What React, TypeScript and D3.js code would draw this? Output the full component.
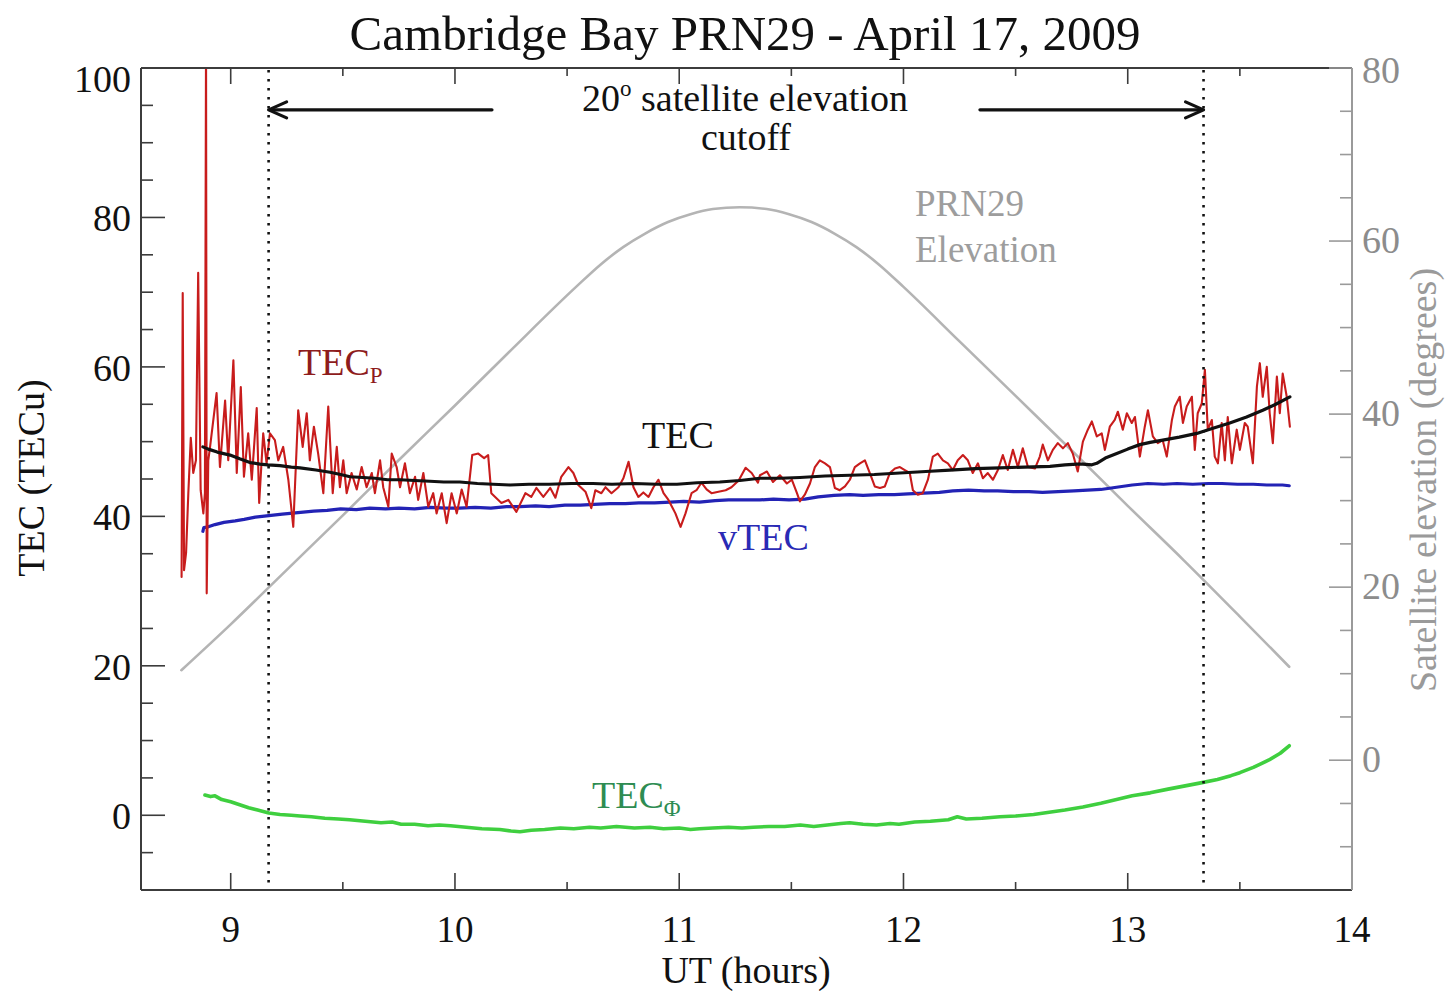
import React from 'react';
import * as d3 from 'd3';

// ---- data -------------------------------------------------------------
const xTickValues = [9, 10, 11, 12, 13, 14];
const xMinorValues = [9.5, 10.5, 11.5, 12.5, 13.5];
const tecTickValues = [0, 20, 40, 60, 80, 100];
const elevTickValues = [0, 20, 40, 60, 80];
const cutoffHours = [9.169, 13.338];
const arrowTailHours = [10.165, 12.341];

// PRN29 elevation (degrees)
const elevHours = [8.78, 9.0, 9.25, 9.5, 9.75, 10.0, 10.25, 10.54, 10.65, 10.75, 10.85, 10.95, 11.05, 11.15, 11.27, 11.39, 11.49, 11.59, 11.69, 11.79, 11.89, 12.0, 12.25, 12.5, 12.75, 13.0, 13.25, 13.5, 13.72];
const elevValues = [10.4, 15.7, 22.0, 28.3, 34.7, 41.0, 47.4, 54.7, 57.3, 59.3, 60.9, 62.2, 63.1, 63.7, 63.9, 63.7, 63.1, 62.2, 60.9, 59.3, 57.3, 54.7, 48.4, 42.1, 35.8, 29.4, 23.1, 16.6, 10.8];

// Pseudorange TEC (TECu)
const tecPHours = [
  8.781, 8.786, 8.792, 8.801, 8.811, 8.822, 8.833, 8.845, 8.855, 8.866, 8.878, 8.885, 8.890, 8.893, 8.900, 8.908,
  8.937, 8.952, 8.975, 8.989, 9.012, 9.027, 9.045, 9.059, 9.078, 9.094, 9.116, 9.127, 9.145, 9.160, 9.175, 9.197,
  9.212, 9.234, 9.257, 9.279, 9.301, 9.321, 9.339, 9.353, 9.371, 9.390, 9.413, 9.435, 9.455, 9.473, 9.487, 9.502,
  9.517, 9.539, 9.562, 9.584, 9.606, 9.629, 9.643, 9.666, 9.680, 9.703, 9.718, 9.740, 9.755, 9.777, 9.799, 9.822,
  9.836, 9.859, 9.881, 9.903, 9.918, 9.941, 9.963, 9.985, 10.008, 10.030, 10.052, 10.077, 10.104, 10.130, 10.148, 10.162,
  10.207, 10.238, 10.274, 10.314, 10.340, 10.363, 10.394, 10.425, 10.448, 10.474, 10.506, 10.528, 10.550, 10.582, 10.608, 10.626,
  10.653, 10.671, 10.698, 10.729, 10.751, 10.774, 10.796, 10.818, 10.840, 10.863, 10.885, 10.907, 10.930, 10.952, 10.983, 11.006,
  11.028, 11.055, 11.077, 11.099, 11.122, 11.144, 11.175, 11.207, 11.233, 11.265, 11.296, 11.323, 11.351, 11.360, 11.391, 11.418,
  11.449, 11.480, 11.502, 11.525, 11.538, 11.560, 11.583, 11.605, 11.627, 11.650, 11.672, 11.694, 11.716, 11.739, 11.761, 11.783,
  11.806, 11.828, 11.850, 11.872, 11.895, 11.917, 11.939, 11.962, 11.984, 12.006, 12.028, 12.042, 12.064, 12.086, 12.109, 12.131,
  12.153, 12.176, 12.198, 12.220, 12.242, 12.265, 12.287, 12.309, 12.332, 12.354, 12.376, 12.399, 12.421, 12.443, 12.465, 12.488,
  12.510, 12.532, 12.555, 12.586, 12.608, 12.621, 12.644, 12.666, 12.688, 12.711, 12.733, 12.755, 12.777, 12.800, 12.822, 12.840,
  12.862, 12.884, 12.898, 12.920, 12.942, 12.956, 12.978, 12.996, 13.018, 13.032, 13.054, 13.076, 13.090, 13.112, 13.134, 13.156,
  13.174, 13.197, 13.210, 13.232, 13.246, 13.263, 13.286, 13.299, 13.312, 13.330, 13.344, 13.357, 13.375, 13.388, 13.402, 13.419,
  13.433, 13.446, 13.464, 13.486, 13.500, 13.522, 13.535, 13.558, 13.576, 13.589, 13.602, 13.620, 13.633, 13.647, 13.665, 13.678,
  13.691, 13.709, 13.723,
];
const tecPValues = [
  31.9, 69.9, 32.8, 35.1, 43.1, 50.5, 45.8, 47.5, 72.6, 43.5, 40.4, 43.1, 104.0, 29.7, 47.5, 49.3,
  56.5, 46.6, 55.5, 47.5, 60.9, 45.8, 57.3, 45.3, 51.1, 44.9, 54.5, 41.8, 51.1, 47.1, 51.1, 50.2,
  47.5, 49.3, 44.9, 38.6, 54.2, 49.3, 53.8, 47.5, 52.0, 48.4, 43.1, 54.7, 43.1, 49.3, 43.9, 47.5,
  43.1, 45.8, 43.6, 46.6, 43.9, 45.8, 43.1, 47.5, 43.9, 41.3, 48.4, 46.6, 43.9, 47.1, 43.1, 45.3,
  42.2, 45.8, 41.3, 43.1, 40.4, 43.1, 39.1, 43.1, 40.4, 43.6, 41.3, 48.2, 48.4, 47.8, 48.2, 43.1,
  41.8, 42.2, 40.6, 43.1, 42.6, 43.8, 42.6, 43.8, 42.5, 45.3, 46.6, 45.8, 44.2, 43.3, 41.1, 43.5,
  43.1, 43.9, 43.1, 43.9, 45.1, 47.3, 43.9, 42.6, 43.2, 42.6, 43.9, 44.9, 43.1, 42.2, 40.4, 38.6,
  40.4, 43.1, 43.5, 44.5, 43.6, 43.1, 43.3, 43.5, 43.9, 44.8, 46.5, 45.8, 44.5, 45.5, 46.0, 44.6,
  45.5, 44.4, 44.9, 43.1, 42.0, 42.9, 44.4, 46.6, 47.5, 47.1, 46.6, 43.8, 43.5, 44.0, 44.9, 46.6,
  47.1, 47.5, 45.8, 44.0, 43.8, 44.0, 45.8, 46.4, 46.6, 46.2, 45.8, 43.5, 42.9, 43.1, 44.9, 48.0,
  48.4, 47.5, 47.1, 46.2, 47.5, 48.2, 47.5, 45.8, 47.1, 45.1, 45.8, 44.9, 46.2, 48.2, 46.2, 48.9,
  46.6, 49.1, 46.6, 46.4, 48.0, 49.6, 47.5, 48.9, 49.8, 49.1, 49.8, 48.4, 46.0, 50.0, 51.6, 52.7,
  50.7, 51.1, 48.9, 52.0, 52.9, 54.0, 51.6, 53.8, 52.5, 53.3, 48.0, 52.0, 54.2, 50.7, 49.8, 50.2,
  48.0, 52.9, 54.7, 56.0, 52.5, 54.7, 56.0, 48.9, 53.8, 55.1, 59.6, 51.6, 52.9, 48.0, 47.1, 52.5,
  47.5, 53.3, 47.1, 51.6, 48.9, 52.5, 52.0, 47.1, 57.4, 60.5, 56.0, 60.0, 53.8, 49.8, 58.7, 53.8,
  59.1, 56.0, 52.0,
];

// Combined TEC (TECu)
const tecHours = [
  8.876, 8.90, 8.94, 8.997, 9.04, 9.086, 9.13, 9.166, 9.22, 9.27, 9.309, 9.38, 9.443, 9.49, 9.532, 9.59,
  9.643, 9.70, 9.755, 9.82, 9.888, 9.95, 10.022, 10.10, 10.17, 10.245, 10.33, 10.42, 10.52, 10.615, 10.70, 10.80,
  10.90, 10.990, 11.08, 11.181, 11.27, 11.360, 11.45, 11.538, 11.65, 11.761, 11.87, 11.984, 12.10, 12.207, 12.32, 12.430,
  12.54, 12.653, 12.72, 12.773, 12.80, 12.84, 12.862, 12.90, 12.951, 13.00, 13.054, 13.10, 13.156, 13.23, 13.308, 13.38,
  13.455, 13.53, 13.602, 13.66, 13.723,
];
const tecValues = [
  49.3, 49.0, 48.6, 48.2, 47.7, 47.2, 47.0, 46.9, 46.8, 46.6, 46.5, 46.2, 45.9, 45.6, 45.3, 45.2,
  45.1, 44.9, 44.9, 44.8, 44.7, 44.6, 44.6, 44.4, 44.3, 44.2, 44.3, 44.3, 44.4, 44.4, 44.3, 44.4,
  44.3, 44.3, 44.5, 44.6, 44.8, 45.1, 45.1, 45.2, 45.4, 45.5, 45.6, 45.8, 46.0, 46.2, 46.4, 46.5,
  46.6, 46.7, 46.9, 47.0, 47.0, 46.9, 47.1, 47.8, 48.4, 49.0, 49.6, 49.9, 50.2, 50.6, 51.1, 51.8,
  52.5, 53.3, 54.2, 55.0, 56.0,
];

// Vertical TEC (TECu)
const vtecHours = [
  8.876, 8.880, 8.90, 8.93, 8.97, 9.02, 9.06, 9.11, 9.17, 9.23, 9.30, 9.37, 9.43, 9.49, 9.56, 9.62,
  9.69, 9.75, 9.82, 9.89, 9.96, 10.02, 10.09, 10.16, 10.23, 10.29, 10.36, 10.42, 10.49, 10.56, 10.62, 10.69,
  10.76, 10.82, 10.89, 10.96, 11.02, 11.09, 11.16, 11.22, 11.29, 11.36, 11.42, 11.49, 11.56, 11.62, 11.69, 11.76,
  11.82, 11.89, 11.96, 12.02, 12.09, 12.16, 12.22, 12.29, 12.36, 12.42, 12.49, 12.56, 12.62, 12.69, 12.76, 12.82,
  12.88, 12.95, 13.02, 13.09, 13.16, 13.22, 13.29, 13.36, 13.42, 13.49, 13.56, 13.62, 13.69, 13.72,
];
const vtecValues = [
  38.0, 38.5, 38.6, 38.9, 39.2, 39.4, 39.6, 39.9, 40.1, 40.3, 40.5, 40.7, 40.8, 41.0, 40.9, 41.1,
  41.0, 41.1, 41.0, 41.2, 41.1, 41.1, 41.2, 41.1, 41.3, 41.3, 41.4, 41.3, 41.5, 41.5, 41.6, 41.7,
  41.7, 41.8, 41.8, 41.9, 42.0, 41.9, 42.1, 42.2, 42.2, 42.2, 42.3, 42.2, 42.3, 42.6, 42.8, 42.9,
  42.8, 42.9, 42.9, 43.0, 43.1, 43.2, 43.4, 43.5, 43.4, 43.4, 43.3, 43.3, 43.2, 43.3, 43.4, 43.5,
  43.6, 43.9, 44.2, 44.4, 44.3, 44.4, 44.3, 44.4, 44.4, 44.3, 44.3, 44.2, 44.2, 44.1,
];

// Carrier-phase TEC (TECu)
const tecPhiHours = [
  8.885, 8.91, 8.93, 8.96, 9.00, 9.04, 9.08, 9.12, 9.17, 9.22, 9.27, 9.31, 9.36, 9.42, 9.48, 9.53,
  9.60, 9.67, 9.72, 9.76, 9.82, 9.88, 9.93, 9.98, 10.05, 10.12, 10.20, 10.25, 10.29, 10.34, 10.40, 10.47,
  10.53, 10.60, 10.65, 10.72, 10.80, 10.87, 10.93, 11.00, 11.05, 11.09, 11.15, 11.22, 11.28, 11.33, 11.40, 11.47,
  11.54, 11.60, 11.66, 11.72, 11.76, 11.82, 11.88, 11.94, 11.98, 12.05, 12.12, 12.20, 12.24, 12.28, 12.35, 12.43,
  12.50, 12.58, 12.65, 12.72, 12.80, 12.88, 12.95, 13.02, 13.10, 13.18, 13.25, 13.32, 13.40, 13.46, 13.50, 13.56,
  13.63, 13.68, 13.72,
];
const tecPhiValues = [
  2.7, 2.5, 2.6, 2.1, 1.8, 1.4, 1.0, 0.7, 0.3, 0.1, 0.0, -0.1, -0.2, -0.4, -0.5, -0.6,
  -0.8, -1.0, -0.9, -1.2, -1.2, -1.4, -1.3, -1.4, -1.6, -1.8, -1.9, -2.1, -2.2, -2.0, -1.9, -1.7,
  -1.8, -1.6, -1.7, -1.5, -1.7, -1.6, -1.8, -1.7, -1.9, -1.8, -1.7, -1.6, -1.7, -1.6, -1.5, -1.5,
  -1.3, -1.5, -1.3, -1.1, -1.0, -1.2, -1.3, -1.1, -1.2, -0.9, -0.8, -0.6, -0.2, -0.5, -0.4, -0.2,
  -0.1, 0.1, 0.4, 0.7, 1.1, 1.6, 2.1, 2.6, 3.0, 3.5, 3.9, 4.3, 4.8, 5.3, 5.7, 6.4,
  7.4, 8.3, 9.3,
];

// ---- layout -----------------------------------------------------------
const W = 1446;
const H = 991;
const L = 141;
const R = 1352;
const T = 68;
const B = 890;

const SERIF = '"Liberation Serif", "Times New Roman", serif';
const AXIS = '#3c3c3c';
const GREY_AXIS = '#9a9a9a';

const x = d3.scaleLinear().domain([8.6, 14]).range([L, R]);
const yTec = d3.scaleLinear().domain([-10, 100]).range([B, T]);
const yElev = d3.scaleLinear().domain([-15, 80]).range([B, T]);

const zip = (hs: number[], vs: number[]) => hs.map((h, i) => [h, vs[i]] as [number, number]);

const tecLine = d3.line<[number, number]>().x((d) => x(d[0])).y((d) => yTec(d[1]));
const elevLine = d3
  .line<[number, number]>()
  .x((d) => x(d[0]))
  .y((d) => yElev(d[1]))
  .curve(d3.curveMonotoneX);

const tecMinor = d3.range(-5, 100, 5).filter((v) => v % 20 !== 0);
const elevMinor = d3.range(-10, 80, 5).filter((v) => v % 20 !== 0);

export default function App() {
  const arrowY = yTec(94.4);
  return (
    <svg
      width={W}
      height={H}
      viewBox={`0 0 ${W} ${H}`}
      style={{ position: 'absolute', left: 0, top: 0, background: '#fff' }}
      fontFamily={SERIF}
    >
      <defs>
        <clipPath id="plot-clip">
          <rect x={L} y={T} width={R - L} height={B - T} />
        </clipPath>
      </defs>
      <rect x={0} y={0} width={W} height={H} fill="#fff" />

      {/* title */}
      <text x={745} y={50} fontSize={49} textAnchor="middle" fill="#111">
        Cambridge Bay PRN29 - April 17, 2009
      </text>

      {/* series */}
      <g clipPath="url(#plot-clip)" fill="none" strokeLinejoin="round" strokeLinecap="round">
        <path d={elevLine(zip(elevHours, elevValues)) || ''} stroke="#b4b4b4" strokeWidth={2.6} />
        <path d={tecLine(zip(tecPhiHours, tecPhiValues)) || ''} stroke="#3fcf3f" strokeWidth={3.6} />
        <path d={tecLine(zip(vtecHours, vtecValues)) || ''} stroke="#2323b5" strokeWidth={3.2} />
        <path d={tecLine(zip(tecPHours, tecPValues)) || ''} stroke="#c81c1c" strokeWidth={2.1} />
        <path d={tecLine(zip(tecHours, tecValues)) || ''} stroke="#111" strokeWidth={3.2} />
      </g>

      {/* elevation cutoff markers */}
      {cutoffHours.map((h) => (
        <line
          key={h}
          x1={x(h)}
          x2={x(h)}
          y1={T + 2}
          y2={B}
          stroke="#111"
          strokeWidth={2.6}
          strokeDasharray="2.6 6.4"
        />
      ))}
      {cutoffHours.map((h, i) => {
        const tip = x(h);
        const tail = x(arrowTailHours[i]);
        const dir = i === 0 ? 1 : -1;
        return (
          <g key={`arrow-${h}`} stroke="#111" strokeWidth={3.2} fill="none" strokeLinecap="round" strokeLinejoin="round">
            <line x1={tail} x2={tip + dir * 2} y1={arrowY} y2={arrowY} />
            <polyline points={`${tip + dir * 18},${arrowY - 8} ${tip},${arrowY} ${tip + dir * 18},${arrowY + 8}`} />
          </g>
        );
      })}
      <text x={745} y={111} fontSize={38} textAnchor="middle" fill="#111">
        20<tspan dy={-15} fontSize={23}>o</tspan>
        <tspan dy={15}> satellite elevation</tspan>
      </text>
      <text x={746} y={150} fontSize={38} textAnchor="middle" fill="#111">
        cutoff
      </text>

      {/* series labels */}
      <text x={915} y={216} fontSize={37} fill="#9d9d9d">PRN29</text>
      <text x={915} y={262} fontSize={37} fill="#9d9d9d">Elevation</text>
      <text x={298} y={375} fontSize={38} fill="#8e1c1c">
        TEC<tspan dy={8} fontSize={23}>P</tspan>
      </text>
      <text x={642} y={448} fontSize={38} fill="#111">TEC</text>
      <text x={718} y={550} fontSize={38} fill="#2a2ab5">vTEC</text>
      <text x={592} y={808} fontSize={38} fill="#2e8c52">
        TEC<tspan dy={8} fontSize={23}>Φ</tspan>
      </text>

      {/* frame */}
      <line x1={L} x2={R} y1={T} y2={T} stroke={AXIS} strokeWidth={2} />
      <line x1={L} x2={R} y1={B} y2={B} stroke={AXIS} strokeWidth={2} />
      <line x1={L} x2={L} y1={T} y2={B} stroke={AXIS} strokeWidth={2} />
      <line x1={R} x2={R} y1={T} y2={B} stroke={GREY_AXIS} strokeWidth={2} />

      {/* x ticks (bottom and top) */}
      {xTickValues.filter((v) => v < 14).map((v) => (
        <g key={`xt-${v}`} stroke={AXIS} strokeWidth={1.6}>
          <line x1={x(v)} x2={x(v)} y1={B} y2={B - 17} />
          <line x1={x(v)} x2={x(v)} y1={T} y2={T + 16} />
        </g>
      ))}
      {xMinorValues.map((v) => (
        <g key={`xm-${v}`} stroke={AXIS} strokeWidth={1.6}>
          <line x1={x(v)} x2={x(v)} y1={B} y2={B - 8} />
          <line x1={x(v)} x2={x(v)} y1={T} y2={T + 8} />
        </g>
      ))}
      {xTickValues.map((v) => (
        <text key={`xl-${v}`} x={x(v)} y={942} fontSize={37} textAnchor="middle" fill="#111">
          {v}
        </text>
      ))}
      <text x={746} y={983} fontSize={38} textAnchor="middle" fill="#111">
        UT (hours)
      </text>

      {/* left TEC axis */}
      {tecTickValues.map((v) => (
        <line key={`yt-${v}`} x1={L} x2={L + 24} y1={yTec(v)} y2={yTec(v)} stroke={AXIS} strokeWidth={1.6} />
      ))}
      {tecMinor.map((v) => (
        <line key={`ym-${v}`} x1={L} x2={L + 12} y1={yTec(v)} y2={yTec(v)} stroke={AXIS} strokeWidth={1.6} />
      ))}
      {tecTickValues.map((v) => (
        <text
          key={`yl-${v}`}
          x={131}
          y={Math.max(yTec(v) + 14, T + 24)}
          fontSize={38}
          textAnchor="end"
          fill="#111"
        >
          {v}
        </text>
      ))}
      <text transform="translate(44,478) rotate(-90)" fontSize={38} textAnchor="middle" fill="#111">
        TEC (TECu)
      </text>

      {/* right elevation axis */}
      {elevTickValues.map((v) => (
        <line key={`et-${v}`} x1={R - 23} x2={R} y1={yElev(v)} y2={yElev(v)} stroke={GREY_AXIS} strokeWidth={1.6} />
      ))}
      {elevMinor.map((v) => (
        <line key={`em-${v}`} x1={R - 12} x2={R} y1={yElev(v)} y2={yElev(v)} stroke={GREY_AXIS} strokeWidth={1.6} />
      ))}
      {elevTickValues.map((v) => (
        <text
          key={`el-${v}`}
          x={1362}
          y={Math.max(yElev(v) + 12, T + 15)}
          fontSize={38}
          fill="#8c8c8c"
        >
          {v}
        </text>
      ))}
      <text transform="translate(1436,480) rotate(-90)" fontSize={38} textAnchor="middle" fill="#9a9a9a">
        Satellite elevation (degrees)
      </text>
    </svg>
  );
}
